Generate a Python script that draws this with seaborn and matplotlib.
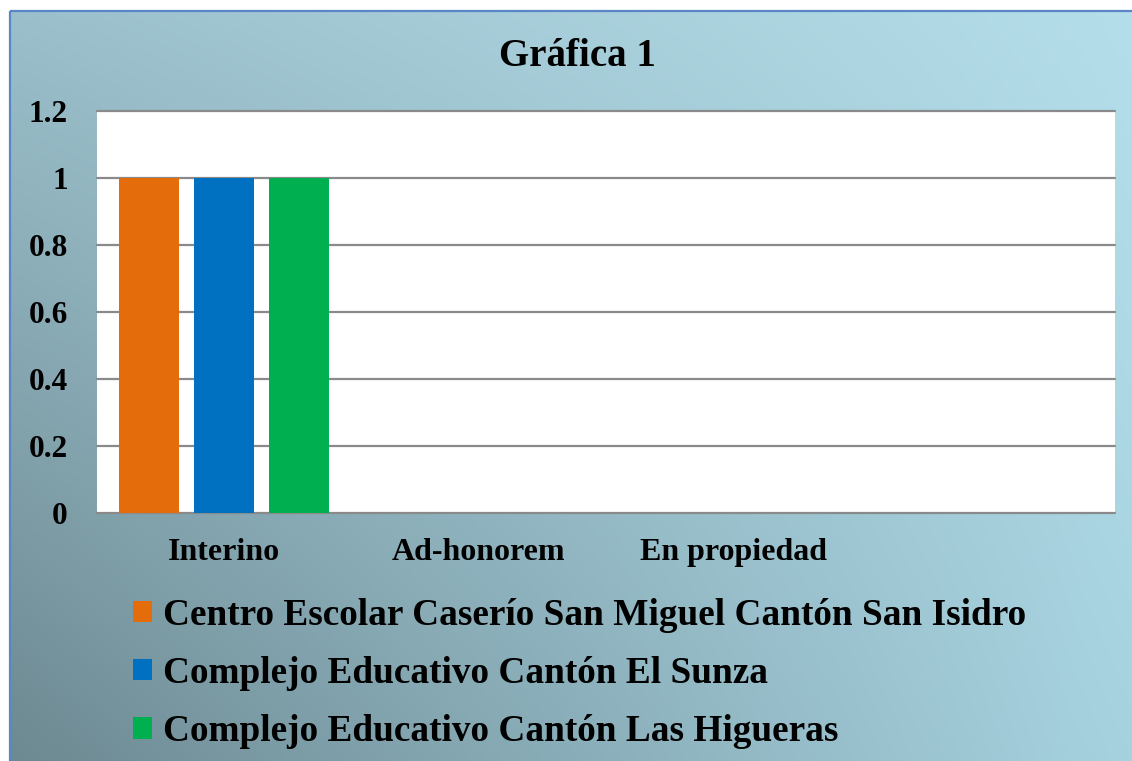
import numpy as np
import pandas as pd
import matplotlib
matplotlib.use("Agg")
import matplotlib.pyplot as plt
import seaborn as sns
from matplotlib.patches import Rectangle

# data
categories = ["Interino", "Ad-honorem", "En propiedad", ""]
schools = [
    "Centro Escolar Caserío San Miguel Cantón San Isidro",
    "Complejo Educativo Cantón El Sunza",
    "Complejo Educativo Cantón Las Higueras",
]
centro_values = [1, 0, 0, 0]
sunza_values = [1, 0, 0, 0]
higueras_values = [1, 0, 0, 0]
y_ticks = [0, 0.2, 0.4, 0.6, 0.8, 1, 1.2]
y_labels = ["0", "0.2", "0.4", "0.6", "0.8", "1", "1.2"]
colors = ["#e46c0a", "#0070c0", "#00b050"]

df = pd.DataFrame({
    "categoria": categories * 3,
    "escuela": [schools[0]] * 4 + [schools[1]] * 4 + [schools[2]] * 4,
    "valor": centro_values + sunza_values + higueras_values,
})

sns.set_theme(style="white")
plt.rcParams["font.family"] = ["Liberation Serif", "DejaVu Serif"]
plt.rcParams["font.weight"] = "bold"
plt.rcParams["text.color"] = "black"
plt.rcParams["xtick.color"] = "black"
plt.rcParams["ytick.color"] = "black"

W, H = 1132, 761
fig = plt.figure(figsize=(W / 100, H / 100), dpi=100)
fig.patch.set_facecolor("white")

# gradient background of the chart area
bg = fig.add_axes([0, 0, 1, 1])
bg.set_zorder(-1)
bg.set_xlim(0, W)
bg.set_ylim(H, 0)
bg.axis("off")
tl = np.array([0x9b, 0xc0, 0xcb]) / 255
tr = np.array([0xb4, 0xde, 0xea]) / 255
bl = np.array([0x6d, 0x89, 0x92]) / 255
br = np.array([0xa6, 0xd2, 0xdf]) / 255
u = np.linspace(0, 1, 300)[None, :, None]
v = np.linspace(0, 1, 200)[:, None, None]
grad = (1 - v) * ((1 - u) * tl + u * tr) + v * ((1 - u) * bl + u * br)
bg.imshow(grad, extent=(10, W, H, 11), aspect="auto", interpolation="bilinear")
bg.add_patch(Rectangle((10, 11), W, H, fill=False, edgecolor="#5b86c5", lw=1.6))

ax = fig.add_axes([97 / W, 1 - 513 / H, (1115 - 97) / W, (513 - 111) / H])
ax.set_facecolor("white")
sns.barplot(data=df, x="categoria", y="valor", hue="escuela", hue_order=schools,
            order=categories, palette=colors, width=0.884, gap=0.2,
            saturation=1, linewidth=0, edgecolor="none", ax=ax, legend=True)

ax.set_ylim(0, 1.2)
ax.set_yticks(y_ticks)
ax.set_yticklabels(y_labels)
ax.set_xlabel("")
ax.set_ylabel("")
ax.tick_params(axis="y", length=0, pad=21, labelsize=22.5)
ax.tick_params(axis="x", length=0, pad=18, labelsize=23)
for lab in ax.get_xticklabels() + ax.get_yticklabels():
    lab.set_fontweight("bold")
    lab.set_color("black")
for s in ax.spines.values():
    s.set_visible(False)
ax.set_axisbelow(True)
ax.yaxis.grid(True, color="#8a8a8a", lw=1.6)
for line in ax.get_ygridlines():
    line.set_clip_on(False)

handles, labels = ax.get_legend_handles_labels()
leg = ax.legend(handles, labels, loc="upper left",
                bbox_to_anchor=(133 / W, 1 - 598 / H), bbox_transform=fig.transFigure,
                frameon=False, prop={"weight": "bold", "size": 26.8},
                handlelength=0.5, handleheight=0.5, handletextpad=0.3,
                labelspacing=0.62, borderpad=0, borderaxespad=0)
for t in leg.get_texts():
    t.set_color("black")
for p in leg.get_patches():
    p.set_edgecolor("none")

fig.text(577 / W, 1 - 57 / H, "Gráfica 1", ha="center", va="center",
         fontsize=28, fontweight="bold", color="black")

fig.savefig("out.png", dpi=100)
